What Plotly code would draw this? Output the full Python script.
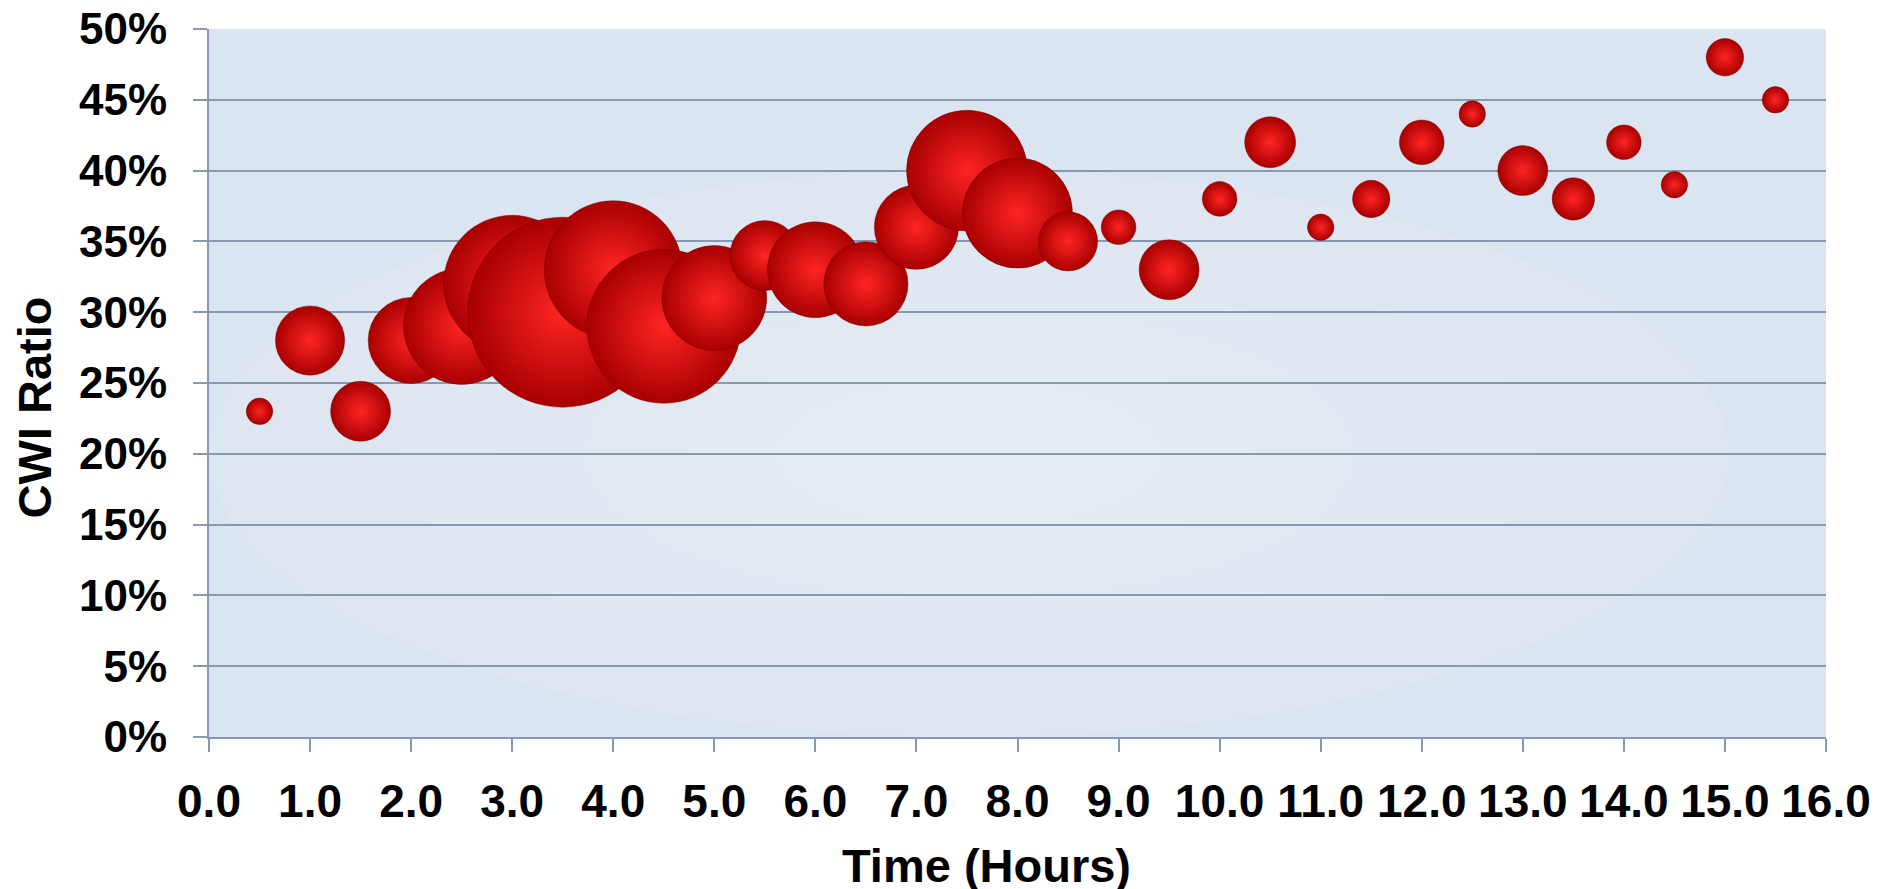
import plotly.graph_objects as go

# ---- data ----
hours = [0.5, 1.0, 1.5, 2.0, 2.5, 3.0, 3.5, 4.0, 4.5, 5.0, 5.5, 6.0, 6.5, 7.0, 7.5,
         8.0, 8.5, 9.0, 9.5, 10.0, 10.5, 11.0, 11.5, 12.0, 12.5, 13.0, 13.5, 14.0,
         14.5, 15.0, 15.5]
cwi_ratio = [23, 28, 23, 28, 29, 32, 30, 33, 29, 31, 34, 33, 32, 36, 40,
             37, 35, 36, 33, 38, 42, 36, 38, 42, 44, 40, 38, 42,
             39, 48, 45]
bubble_size = [7, 48, 36, 74, 135, 188, 361, 190, 237, 110, 49, 92, 71, 71, 146,
               121, 35, 12, 36, 12, 26, 7, 14, 20, 7, 25, 18, 12,
               7, 14, 7]
x_ticks = [0, 1, 2, 3, 4, 5, 6, 7, 8, 9, 10, 11, 12, 13, 14, 15, 16]
y_ticks = [0, 5, 10, 15, 20, 25, 30, 35, 40, 45, 50]
y_tick_text = ["0%", "5%", "10%", "15%", "20%", "25%", "30%", "35%", "40%", "45%", "50%"]
x_tick_text = ["0.0", "1.0", "2.0", "3.0", "4.0", "5.0", "6.0", "7.0", "8.0",
               "9.0", "10.0", "11.0", "12.0", "13.0", "14.0", "15.0", "16.0"]

FONT = "Arial, Liberation Sans, Helvetica, sans-serif"
GRID = "#8798B0"

fig = go.Figure()
fig.add_trace(go.Scatter(
    x=hours, y=cwi_ratio, mode="markers",
    marker=dict(
        size=bubble_size, sizemode="area", sizeref=0.02,
        color="#A80000",
        gradient=dict(type="radial", color="#FF2424"),
        line=dict(width=0.6, color="rgba(110,0,0,0.7)"),
        opacity=1,
    ),
    cliponaxis=False,
    hoverinfo="x+y",
))

# subtle radial lightening of the plot background
shapes = []
n = 8
for i in range(n, 0, -1):
    r = i / n
    shapes.append(dict(
        type="circle", xref="x domain", yref="y domain", layer="below",
        x0=0.47 - 0.47 * r, x1=0.47 + 0.47 * r,
        y0=0.40 - 0.40 * r, y1=0.40 + 0.40 * r,
        fillcolor="white", opacity=0.055, line=dict(width=0),
    ))

fig.update_layout(
    width=1895, height=889,
    margin=dict(l=201, r=77, t=21, b=160, pad=0),
    paper_bgcolor="white",
    plot_bgcolor="#DBE5F1",
    showlegend=False,
    font=dict(family=FONT, color="black"),
    shapes=shapes,
    xaxis=dict(
        range=[0, 16], tickvals=x_ticks, ticktext=x_tick_text,
        showgrid=False, zeroline=False, automargin=False,
        showline=True, linecolor=GRID, linewidth=2,
        ticks="outside", ticklen=13, tickwidth=2, tickcolor=GRID,
        tickfont=dict(family=FONT, size=46, weight="bold", color="black"),
        ticklabelstandoff=10, ticklabeloverflow="allow",
    ),
    yaxis=dict(
        range=[0, 50], tickvals=y_ticks, ticktext=y_tick_text,
        showgrid=True, gridcolor=GRID, gridwidth=2, zeroline=False,
        automargin=False,
        showline=True, linecolor=GRID, linewidth=2,
        ticks="outside", ticklen=14, tickwidth=2, tickcolor=GRID,
        tickfont=dict(family=FONT, size=44, weight="bold", color="black"),
        ticklabelstandoff=17, ticklabeloverflow="allow",
    ),
    annotations=[
        dict(text="Time (Hours)", xref="paper", yref="paper",
             x=0.481, y=-0.1415, xanchor="center", yanchor="top",
             showarrow=False,
             font=dict(family=FONT, size=47, weight="bold", color="black")),
        dict(text="CWI Ratio", xref="paper", yref="paper",
             x=-0.108, y=0.466, xanchor="center", yanchor="middle",
             textangle=-90, showarrow=False,
             font=dict(family=FONT, size=47, weight="bold", color="black")),
    ],
)

fig.write_html("out.html")
